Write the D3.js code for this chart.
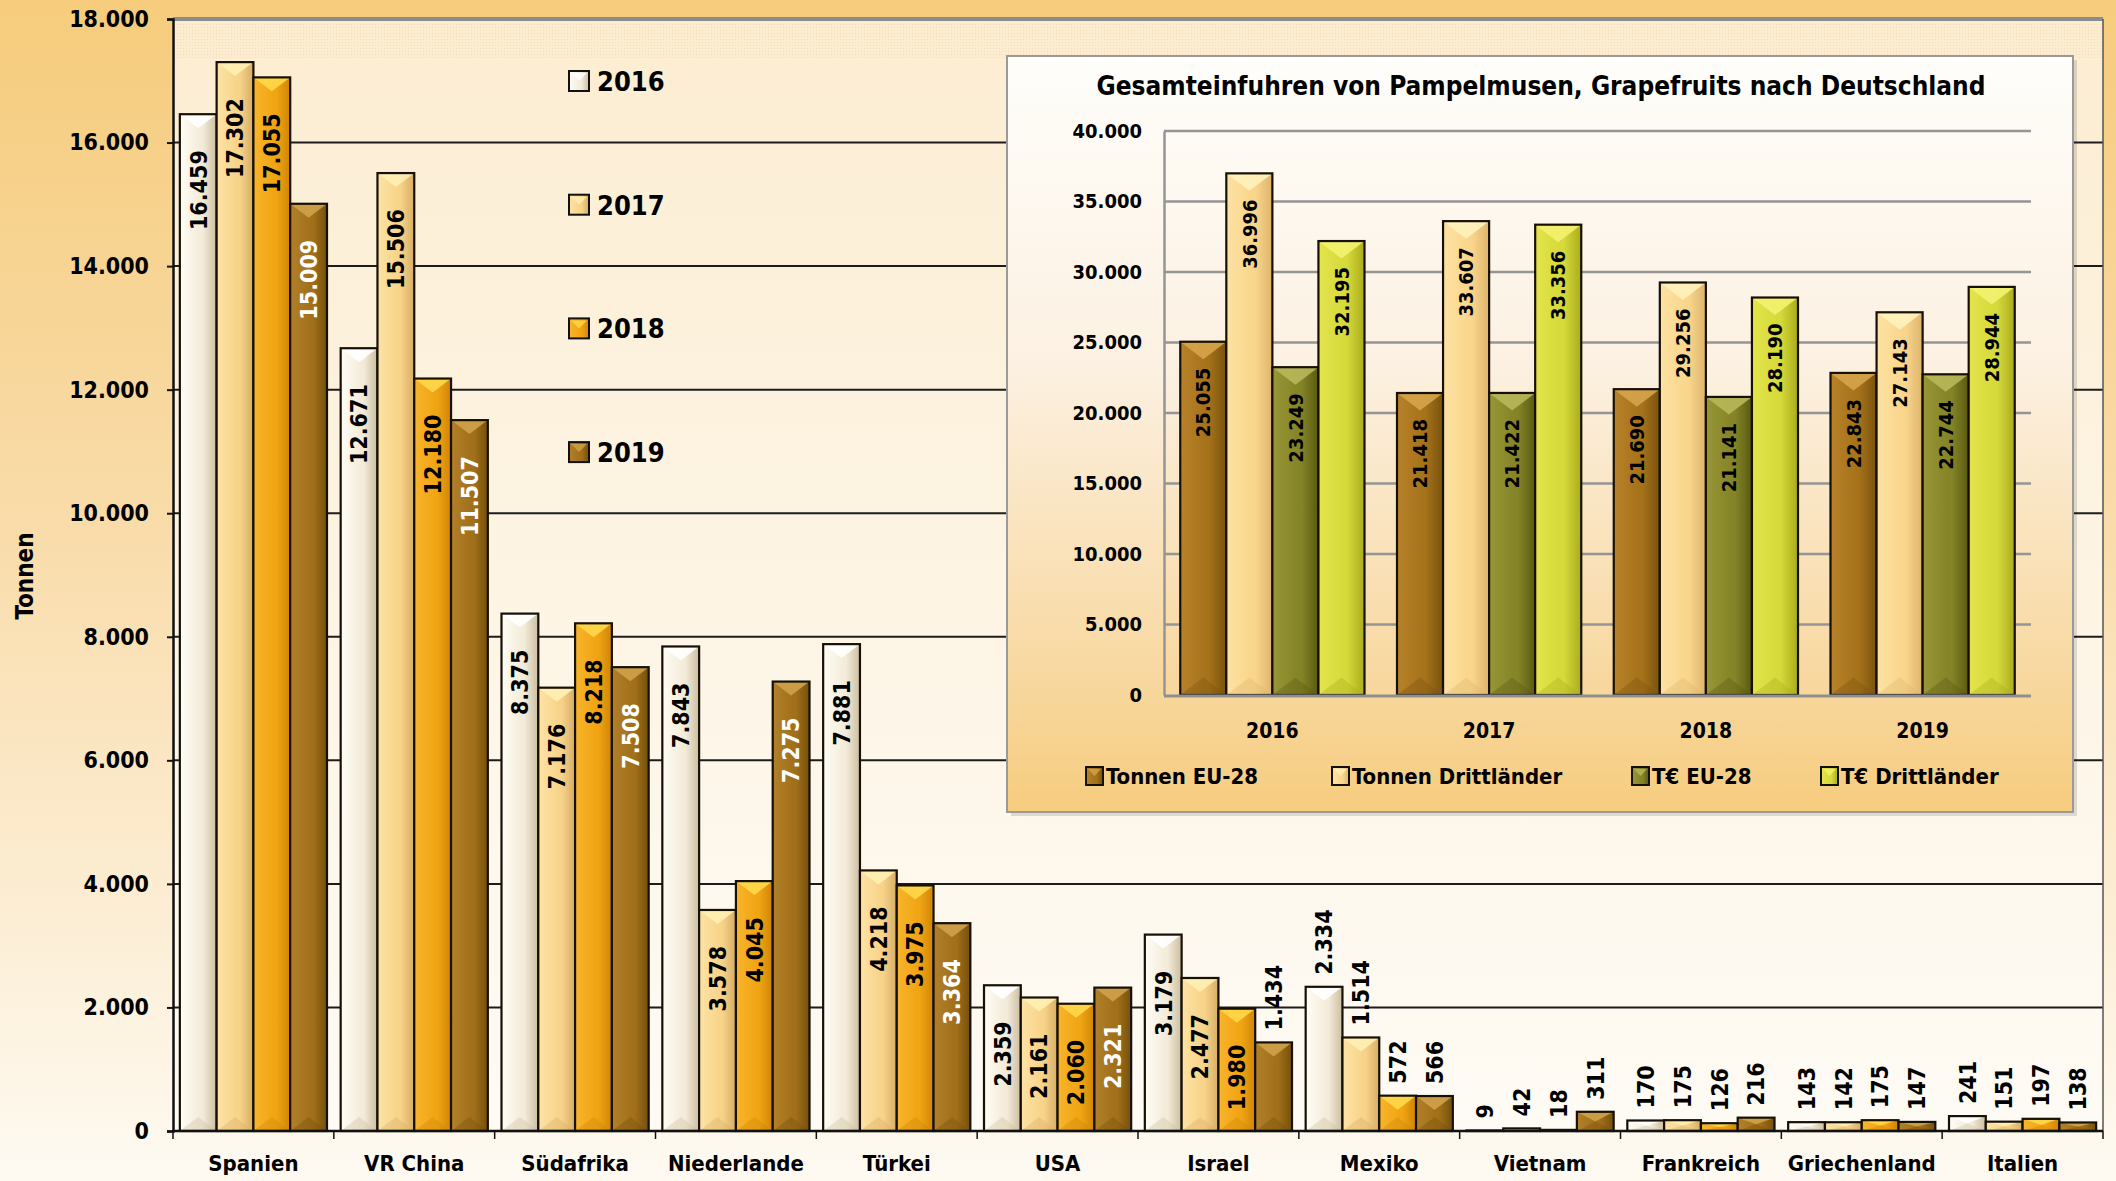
<!DOCTYPE html>
<html>
<head>
<meta charset="utf-8">
<script src="https://d3js.org/d3.v7.min.js"></script>
<style>
  body { margin: 0; background: #f6cd7e; }
  svg { display: block; }
  text { font-family: "DejaVu Sans Condensed", "DejaVu Sans", sans-serif; font-weight: bold; font-stretch: condensed; fill: #000; }
</style>
</head>
<body>
<svg id="chart" width="2116" height="1181"></svg>
<script>
// main chart data (Tonnen)
var countries = ["Spanien", "VR China", "Südafrika", "Niederlande", "Türkei", "USA", "Israel", "Mexiko", "Vietnam", "Frankreich", "Griechenland", "Italien"];
var years = ["2016", "2017", "2018", "2019"];
var t2016 = [16459, 12671, 8375, 7843, 7881, 2359, 3179, 2334, 9, 170, 143, 241];
var t2017 = [17302, 15506, 7176, 3578, 4218, 2161, 2477, 1514, 42, 175, 142, 151];
var t2018 = [17055, 12180, 8218, 4045, 3975, 2060, 1980, 572, 18, 126, 175, 197];
var t2019 = [15009, 11507, 7508, 7275, 3364, 2321, 1434, 566, 311, 216, 147, 138];
var yTicks = [0, 2000, 4000, 6000, 8000, 10000, 12000, 14000, 16000, 18000];

// inset data
var insetTitle = "Gesamteinfuhren von Pampelmusen, Grapefruits nach Deutschland";
var insetSeries = ["Tonnen EU-28", "Tonnen Drittländer", "T€ EU-28", "T€ Drittländer"];
var tonnenEU = [25055, 21418, 21690, 22843];
var tonnenDritt = [36996, 33607, 29256, 27143];
var euroEU = [23249, 21422, 21141, 22744];
var euroDritt = [32195, 33356, 28190, 28944];
var insetTicks = [0, 5000, 10000, 15000, 20000, 25000, 30000, 35000, 40000];

var de = d3.formatLocale({decimal: ",", thousands: ".", grouping: [3], currency: ["", " €"]});
var fmt = de.format(",d");

var svg = d3.select("#chart");
var defs = svg.append("defs");

// palettes: light, base, dark, chevron
var pal = {
  p2016: ["#fffdf6", "#f4ecda", "#cbbd9f", "#ffffff"],
  p2017: ["#fde3a6", "#f8d48a", "#d6ad64", "#fff0b4"],
  p2018: ["#f8b52c", "#f1a514", "#cf8506", "#ffd84a"],
  p2019: ["#b3802a", "#a2701a", "#74500c", "#cfa24a"],
  tEU:   ["#b7822a", "#a6721a", "#78520e", "#d6a44a"],
  tDr:   ["#fde2a4", "#fad68c", "#deb46c", "#fff2bc"],
  eEU:   ["#979736", "#858528", "#5a5a12", "#b8b85a"],
  eDr:   ["#e3e54c", "#d6da3a", "#aaac1c", "#f4f270"]
};
Object.keys(pal).forEach(function(k) {
  var c = pal[k];
  var g = defs.append("linearGradient").attr("id", "g_" + k).attr("x1", 0).attr("x2", 1).attr("y1", 0).attr("y2", 0);
  g.append("stop").attr("offset", "0").attr("stop-color", c[0]);
  g.append("stop").attr("offset", "0.55").attr("stop-color", c[1]);
  g.append("stop").attr("offset", "0.62").attr("stop-color", c[1]);
  g.append("stop").attr("offset", "1").attr("stop-color", c[2]);
});

var bg = defs.append("linearGradient").attr("id", "pageBg").attr("x1", 0).attr("x2", 0).attr("y1", 0).attr("y2", 1);
bg.append("stop").attr("offset", "0").attr("stop-color", "#f6cc7c");
bg.append("stop").attr("offset", "0.45").attr("stop-color", "#f9dcaa");
bg.append("stop").attr("offset", "1").attr("stop-color", "#fefaf2");

var plotBg = defs.append("linearGradient").attr("id", "plotBg").attr("x1", 0).attr("x2", 0).attr("y1", 0).attr("y2", 1);
plotBg.append("stop").attr("offset", "0").attr("stop-color", "#fcedd2");
plotBg.append("stop").attr("offset", "1").attr("stop-color", "#fefbf5");

var insetBg = defs.append("linearGradient").attr("id", "insetBg").attr("x1", 0).attr("x2", 0).attr("y1", 0).attr("y2", 1);
insetBg.append("stop").attr("offset", "0").attr("stop-color", "#fffefb");
insetBg.append("stop").attr("offset", "0.4").attr("stop-color", "#fcf1e2");
insetBg.append("stop").attr("offset", "0.82").attr("stop-color", "#f8d8a0");
insetBg.append("stop").attr("offset", "1").attr("stop-color", "#f6cc7e");

var dots = defs.append("pattern").attr("id", "dots").attr("width", 3).attr("height", 3).attr("patternUnits", "userSpaceOnUse");
dots.append("rect").attr("width", 3).attr("height", 3).attr("fill", "#fcecd0");
dots.append("rect").attr("width", 1).attr("height", 1).attr("fill", "#f1d9a8");

function drawBar(g, x, w, yTop, yBase, key) {
  var c = pal[key];
  var h = Math.max(0, yBase - yTop);
  g.append("rect").attr("x", x).attr("y", yTop).attr("width", w).attr("height", h)
    .attr("fill", "url(#g_" + key + ")");
  var ch = Math.min(w * 0.38, h / 2);
  if (ch > 1) {
    g.append("path")
      .attr("d", "M" + x + "," + yTop + "L" + (x + w) + "," + yTop + "L" + (x + w / 2) + "," + (yTop + ch) + "Z")
      .attr("fill", c[3]).attr("opacity", 0.9);
    g.append("path")
      .attr("d", "M" + x + "," + yBase + "L" + (x + w) + "," + yBase + "L" + (x + w / 2) + "," + (yBase - ch) + "Z")
      .attr("fill", c[2]).attr("opacity", 0.35);
  }
  g.append("rect").attr("x", x).attr("y", yTop).attr("width", w).attr("height", h)
    .attr("fill", "none").attr("stroke", "#161006").attr("stroke-width", 2.2);
}

// page background
svg.append("rect").attr("width", 2116).attr("height", 1181).attr("fill", "url(#pageBg)");

// ---------- main chart ----------
var mLeft = 173, mRight = 2103, mTop = 19, mBottom = 1131;
var x0 = d3.scaleBand().domain(countries).range([mLeft, mRight]).paddingInner(0.085).paddingOuter(0.0425);
var x1 = d3.scaleBand().domain(years).range([0, x0.bandwidth()]);
var y = d3.scaleLinear().domain([0, 18000]).range([mBottom, mTop]);
var series = [t2016, t2017, t2018, t2019];
var keys = ["p2016", "p2017", "p2018", "p2019"];

svg.append("rect").attr("x", mLeft).attr("y", mTop).attr("width", mRight - mLeft).attr("height", mBottom - mTop)
  .attr("fill", "url(#plotBg)");
svg.append("rect").attr("x", mLeft).attr("y", mTop + 3).attr("width", mRight - mLeft).attr("height", 36)
  .attr("fill", "url(#dots)").attr("opacity", 0.8);

// gridlines
svg.append("g").selectAll("line").data(yTicks.filter(function(d) { return d > 0 && d < 18000; }))
  .enter().append("line")
  .attr("x1", mLeft).attr("x2", mRight)
  .attr("y1", function(d) { return y(d); }).attr("y2", function(d) { return y(d); })
  .attr("stroke", "#1c1c1c").attr("stroke-width", 2);
svg.append("line").attr("x1", mLeft).attr("x2", mRight).attr("y1", mTop).attr("y2", mTop)
  .attr("stroke", "#8c8c8c").attr("stroke-width", 4);
svg.append("line").attr("x1", mRight).attr("x2", mRight).attr("y1", mTop).attr("y2", mBottom)
  .attr("stroke", "#555").attr("stroke-width", 1.5);

// y axis
var yAxis = svg.append("g").attr("transform", "translate(" + mLeft + ",0)")
  .call(d3.axisLeft(y).tickValues(yTicks).tickSize(6).tickPadding(18).tickFormat(fmt));
yAxis.select(".domain").attr("stroke", "#111").attr("stroke-width", 2.5);
yAxis.selectAll(".tick line").attr("stroke", "#111").attr("stroke-width", 2);
yAxis.selectAll("text").style("font-size", "23px").attr("fill", "#000").attr("font-family", null);

svg.append("text").attr("transform", "translate(33,576) rotate(-90)")
  .attr("text-anchor", "middle").style("font-size", "24px").text("Tonnen");

// bars
var bars = svg.append("g");
countries.forEach(function(c, i) {
  series.forEach(function(s, j) {
    drawBar(bars, x0(c) + x1(years[j]), x1.bandwidth(), y(s[i]), y(0), keys[j]);
  });
});

// x axis
svg.append("line").attr("x1", mLeft).attr("x2", mRight).attr("y1", mBottom).attr("y2", mBottom)
  .attr("stroke", "#111").attr("stroke-width", 2.5);
var step = x0.step();
svg.append("g").selectAll("line").data(d3.range(countries.length + 1))
  .enter().append("line")
  .attr("x1", function(d) { return mLeft + d * step; }).attr("x2", function(d) { return mLeft + d * step; })
  .attr("y1", mBottom).attr("y2", mBottom + 8)
  .attr("stroke", "#111").attr("stroke-width", 1.5);
svg.append("g").selectAll("text").data(countries)
  .enter().append("text")
  .attr("x", function(d) { return x0(d) + x0.bandwidth() / 2; })
  .attr("y", 1171)
  .attr("text-anchor", "middle").style("font-size", "22px")
  .text(function(d) { return d; });

// value labels
var labels = svg.append("g");
countries.forEach(function(c, i) {
  series.forEach(function(s, j) {
    var v = s[i];
    var cx = x0(c) + x1(years[j]) + x1.bandwidth() / 2;
    var outside = v < 1600 || c === "Mexiko";
    var t = labels.append("text").style("font-size", "23px")
      .attr("dy", "0.36em")
      .text(fmt(v));
    if (outside) {
      t.attr("transform", "translate(" + cx + "," + (y(v) - 12) + ") rotate(-90)").attr("text-anchor", "start");
    } else {
      t.attr("transform", "translate(" + cx + "," + (y(v) + 36) + ") rotate(-90)").attr("text-anchor", "end")
        .style("fill", j === 3 ? "#fff" : "#000");
    }
  });
});

// main legend
var leg = svg.append("g");
years.forEach(function(yr, j) {
  var cy = 81 + j * 123.7;
  leg.append("rect").attr("x", 569).attr("y", cy - 10).attr("width", 20).attr("height", 20)
    .attr("fill", "url(#g_" + keys[j] + ")").attr("stroke", "#111").attr("stroke-width", 2);
  leg.append("path").attr("d", "M571," + (cy - 8) + "L587," + (cy - 8) + "L579," + cy + "Z")
    .attr("fill", pal[keys[j]][3]).attr("opacity", 0.8);
  leg.append("text").attr("x", 597).attr("y", cy + 10).style("font-size", "27px").text(yr);
});

// ---------- inset chart ----------
var bx = 1007, by = 56, bw = 1066, bh = 756;
var inset = svg.append("g");
inset.append("rect").attr("x", bx + 4).attr("y", by + 4).attr("width", bw).attr("height", bh)
  .attr("fill", "#000").attr("opacity", 0.12);
inset.append("rect").attr("x", bx).attr("y", by).attr("width", bw).attr("height", bh)
  .attr("fill", "url(#insetBg)").attr("stroke", "#9a9a9a").attr("stroke-width", 2);

inset.append("text").attr("x", 1541).attr("y", 95).attr("text-anchor", "middle")
  .style("font-size", "26px").text(insetTitle);

var il = 1164, ir = 2031, it = 131, ib = 695;
var ix0 = d3.scaleBand().domain(years).range([il, ir]).paddingInner(0.15).paddingOuter(0.075);
var ix1 = d3.scaleBand().domain(insetSeries).range([0, ix0.bandwidth()]);
var iy = d3.scaleLinear().domain([0, 40000]).range([ib, it]);
var iseries = [tonnenEU, tonnenDritt, euroEU, euroDritt];
var ikeys = ["tEU", "tDr", "eEU", "eDr"];

inset.append("g").selectAll("line").data(insetTicks.filter(function(d) { return d > 0; }))
  .enter().append("line")
  .attr("x1", il).attr("x2", ir)
  .attr("y1", function(d) { return iy(d); }).attr("y2", function(d) { return iy(d); })
  .attr("stroke", "#959595").attr("stroke-width", 2.5);

var iyAxis = inset.append("g").attr("transform", "translate(" + il + ",0)")
  .call(d3.axisLeft(iy).tickValues(insetTicks).tickSize(0).tickPadding(22).tickFormat(fmt));
iyAxis.select(".domain").attr("stroke", "#959595").attr("stroke-width", 2.5);
iyAxis.selectAll("text").style("font-size", "20px").attr("fill", "#000").attr("font-family", null);

var ibars = inset.append("g");
years.forEach(function(yr, i) {
  iseries.forEach(function(s, j) {
    drawBar(ibars, ix0(yr) + ix1(insetSeries[j]), ix1.bandwidth(), iy(s[i]), iy(0), ikeys[j]);
  });
});
inset.append("line").attr("x1", il).attr("x2", ir).attr("y1", ib + 1).attr("y2", ib + 1)
  .attr("stroke", "#8f8f8f").attr("stroke-width", 3);

var ilabels = inset.append("g");
years.forEach(function(yr, i) {
  iseries.forEach(function(s, j) {
    var cx = ix0(yr) + ix1(insetSeries[j]) + ix1.bandwidth() / 2;
    ilabels.append("text")
      .attr("transform", "translate(" + cx + "," + (iy(s[i]) + 26) + ") rotate(-90)")
      .attr("text-anchor", "end").attr("dy", "0.36em")
      .style("font-size", "20px").text(fmt(s[i]));
  });
});

inset.append("g").selectAll("text").data(years)
  .enter().append("text")
  .attr("x", function(d) { return ix0(d) + ix0.bandwidth() / 2; })
  .attr("y", 738).attr("text-anchor", "middle").style("font-size", "21px")
  .text(function(d) { return d; });

var ilegX = [1086, 1332, 1632, 1821];
insetSeries.forEach(function(name, j) {
  var lx = ilegX[j], cy = 776;
  inset.append("rect").attr("x", lx).attr("y", cy - 9).attr("width", 17).attr("height", 18)
    .attr("fill", "url(#g_" + ikeys[j] + ")").attr("stroke", "#111").attr("stroke-width", 2);
  inset.append("path").attr("d", "M" + (lx + 2) + "," + (cy - 7) + "L" + (lx + 15) + "," + (cy - 7) + "L" + (lx + 8.5) + "," + cy + "Z")
    .attr("fill", pal[ikeys[j]][3]).attr("opacity", 0.8);
  inset.append("text").attr("x", lx + 20).attr("y", cy + 8).style("font-size", "22px").text(name);
});
</script>
</body>
</html>
